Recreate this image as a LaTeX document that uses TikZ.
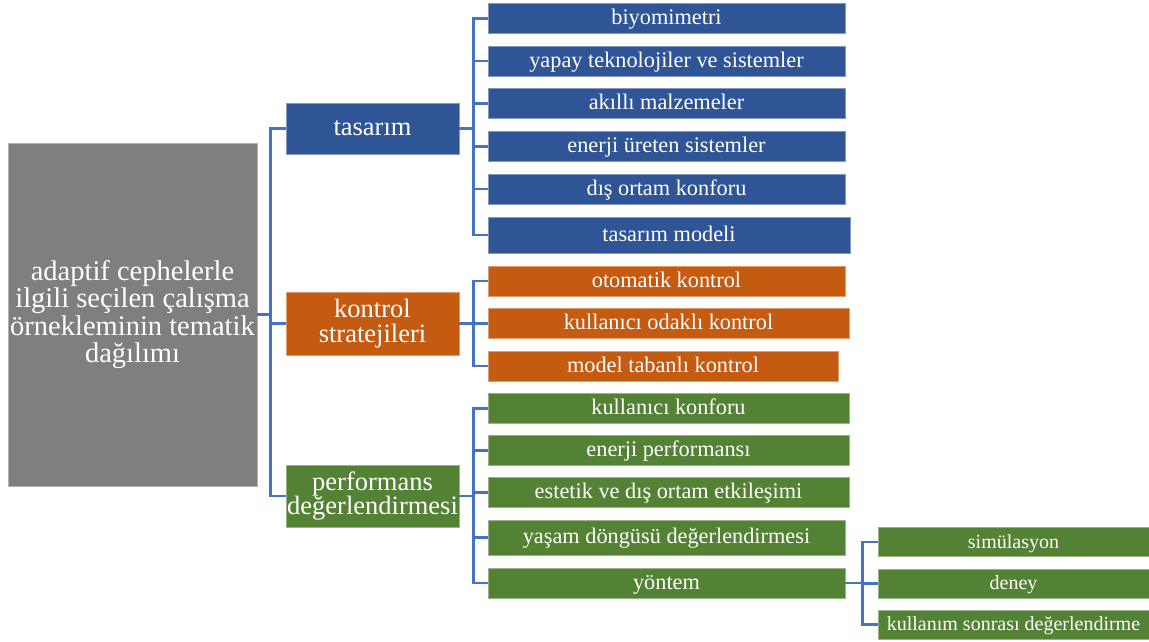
\documentclass[tikz,border=0pt]{standalone}
\usepackage{fontspec}
\setmainfont{Liberation Serif}
\usepackage{xcolor}
\usepackage{tikz}
\definecolor{kmavi}{HTML}{2F5597}
\definecolor{kturuncu}{HTML}{C55A11}
\definecolor{kyesil}{HTML}{548235}
\definecolor{kgri}{HTML}{7F7F7F}
\definecolor{hat}{HTML}{4472C4}

\begin{document}
\begin{tikzpicture}[x=1pt,y=-1pt,
  kutu/.style={fill=#1, draw=#1!60!white, line width=0.6pt, text=white, align=center, inner sep=0pt},
  ikinci/.style={kutu=#1, minimum width=357pt, minimum height=30pt, text height=16.7pt, text depth=3.8pt, font=\fontsize{22.3}{22}\selectfont},
  birinci/.style={kutu=#1, minimum width=173pt, font=\fontsize{26.5}{24.5}\selectfont},
  ucuncu/.style={kutu=kyesil, minimum width=271pt, minimum height=29pt, text height=15.6pt, text depth=3pt, font=\fontsize{20}{20}\selectfont},
  bag/.style={hat, line width=2.8pt}]
\useasboundingbox (0,0) rectangle (1149,641);
\node[kutu=kgri, minimum width=249pt, minimum height=343pt, font=\fontsize{28.5}{27.3}\selectfont] (kok) at (132.5,314.5) {adaptif cephelerle\\ilgili seçilen çalışma\\örnekleminin tematik\\dağılımı};
\node[birinci=kmavi, minimum height=51pt] (tasarim) at (372.5,128.5) {tasarım};
\node[birinci=kturuncu, minimum height=63pt] (kontrol) at (372.5,323.5) {kontrol\\stratejileri};
\node[birinci=kyesil, minimum height=62pt] (perf) at (372.5,496) {performans\\değerlendirmesi};
\node[ikinci=kmavi] (biyo) at (666.5,18.5) {biyomimetri};
\node[ikinci=kmavi] (yapay) at (666.5,61) {yapay teknolojiler ve sistemler};
\node[ikinci=kmavi] (akilli) at (666.5,103.5) {akıllı malzemeler};
\node[ikinci=kmavi] (enerji) at (666.5,146.5) {enerji üreten sistemler};
\node[ikinci=kmavi] (dis) at (666.5,189) {dış ortam konforu};
\node[ikinci=kmavi, minimum width=362pt, minimum height=36pt] (model) at (669,235) {tasarım modeli};
\node[ikinci=kturuncu] (otomatik) at (666.5,281) {otomatik kontrol};
\node[ikinci=kturuncu, minimum width=361pt] (odakli) at (668.5,323.5) {kullanıcı odaklı kontrol};
\node[ikinci=kturuncu, minimum width=350pt] (tabanli) at (663,366) {model tabanlı kontrol};
\node[ikinci=kyesil, minimum width=361pt] (konfor) at (668.5,408.5) {kullanıcı konforu};
\node[ikinci=kyesil, minimum width=361pt] (enperf) at (668.5,450.5) {enerji performansı};
\node[ikinci=kyesil, minimum width=361pt] (estetik) at (668.5,492.5) {estetik ve dış ortam etkileşimi};
\node[ikinci=kyesil, minimum height=35pt] (yasam) at (666.5,537.5) {yaşam döngüsü değerlendirmesi};
\node[ikinci=kyesil] (yontem) at (666.5,583) {yöntem};
\node[ucuncu] (sim) at (1013.5,542) {simülasyon};
\node[ucuncu] (deney) at (1013.5,583.5) {deney};
\node[ucuncu] (sonra) at (1013.5,624.5) {kullanım sonrası değerlendirme};
\foreach \c in {tasarim,kontrol,perf}
  \draw[bag] (kok.east) -- ++(13,0) |- (\c.west);
\foreach \c in {biyo,yapay,akilli,enerji,dis,model}
  \draw[bag] (tasarim.east) -- ++(14,0) |- (\c.west);
\foreach \c in {otomatik,odakli,tabanli}
  \draw[bag] (kontrol.east) -- ++(14,0) |- (\c.west);
\foreach \c in {konfor,enperf,estetik,yasam,yontem}
  \draw[bag] (perf.east) -- ++(14,0) |- (\c.west);
\foreach \c in {sim,deney,sonra}
  \draw[bag] (yontem.east) -- ++(17,0) |- (\c.west);
\end{tikzpicture}
\end{document}
